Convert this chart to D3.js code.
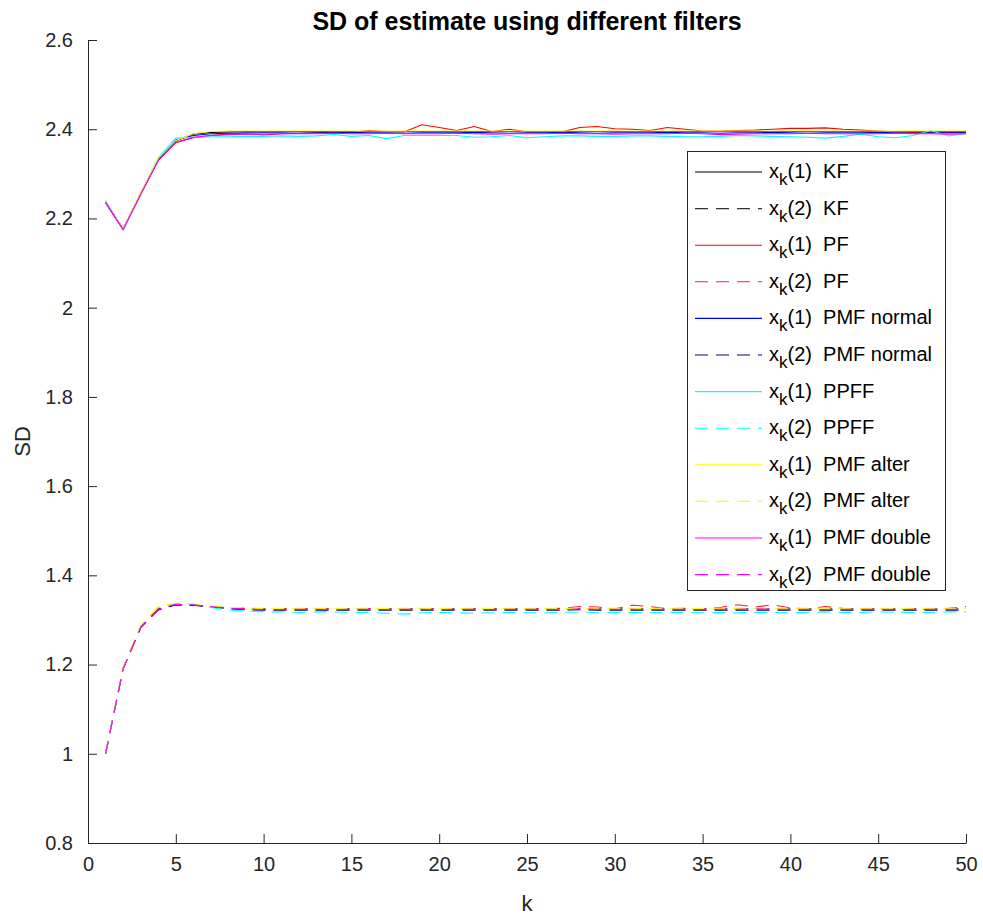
<!DOCTYPE html>
<html>
<head>
<meta charset="utf-8">
<script src="https://cdn.jsdelivr.net/npm/d3@7/dist/d3.min.js"></script>
<style>
  html, body { margin: 0; padding: 0; background: #fff; }
  svg { display: block; font-family: "Liberation Sans", Arial, Helvetica, sans-serif; }
</style>
</head>
<body>
<svg id="chart" width="983" height="915"></svg>
<script>
// Time steps k = 1..50
const k = d3.range(1, 51);

// Standard deviation of the first state component x_k(1)
const kfX1 = [2.237,2.176,2.256,2.333,2.374,2.389,2.393,2.394,2.395,2.395,
  2.395,2.395,2.395,2.395,2.395,2.395,2.395,2.395,2.395,2.395,
  2.395,2.395,2.395,2.395,2.395,2.395,2.395,2.395,2.395,2.395,
  2.395,2.395,2.395,2.395,2.395,2.395,2.395,2.395,2.395,2.395,
  2.395,2.395,2.395,2.395,2.395,2.395,2.395,2.395,2.395,2.395];
const pfX1 = [2.236,2.175,2.254,2.330,2.370,2.381,2.386,2.389,2.390,2.387,
  2.390,2.391,2.392,2.393,2.393,2.397,2.395,2.394,2.410,2.404,
  2.397,2.406,2.395,2.400,2.394,2.394,2.394,2.404,2.406,2.401,
  2.400,2.397,2.404,2.400,2.396,2.396,2.397,2.398,2.400,2.402,
  2.402,2.403,2.400,2.398,2.396,2.394,2.393,2.393,2.392,2.393];
const pmfNormalX1 = [2.235,2.176,2.255,2.332,2.376,2.386,2.390,2.391,2.392,2.392,
  2.392,2.391,2.392,2.392,2.393,2.392,2.392,2.391,2.392,2.392,
  2.392,2.393,2.392,2.391,2.392,2.392,2.393,2.392,2.391,2.392,
  2.392,2.392,2.393,2.392,2.392,2.391,2.392,2.392,2.393,2.392,
  2.391,2.392,2.392,2.392,2.393,2.392,2.391,2.392,2.392,2.392];
const ppffX1 = [2.240,2.174,2.256,2.336,2.380,2.382,2.383,2.383,2.384,2.384,
  2.385,2.384,2.385,2.388,2.384,2.386,2.379,2.386,2.386,2.386,
  2.386,2.382,2.383,2.386,2.381,2.383,2.385,2.385,2.384,2.384,
  2.385,2.385,2.384,2.383,2.383,2.384,2.386,2.385,2.384,2.383,
  2.382,2.380,2.384,2.389,2.383,2.381,2.386,2.397,2.385,2.390];
const pmfAlterX1 = [2.236,2.177,2.257,2.335,2.375,2.390,2.395,2.396,2.396,2.396,
  2.396,2.396,2.396,2.396,2.396,2.396,2.396,2.396,2.396,2.396,
  2.396,2.396,2.396,2.396,2.396,2.396,2.396,2.396,2.396,2.396,
  2.396,2.396,2.396,2.396,2.396,2.396,2.396,2.396,2.396,2.396,
  2.396,2.396,2.396,2.396,2.396,2.396,2.396,2.396,2.396,2.396];
const pmfDoubleX1 = [2.236,2.175,2.254,2.330,2.371,2.382,2.386,2.388,2.389,2.389,
  2.390,2.390,2.390,2.391,2.390,2.390,2.391,2.390,2.390,2.390,
  2.391,2.390,2.389,2.390,2.390,2.390,2.391,2.390,2.390,2.389,
  2.390,2.390,2.390,2.391,2.390,2.388,2.389,2.390,2.390,2.390,
  2.391,2.390,2.390,2.390,2.390,2.391,2.390,2.390,2.389,2.390];

// Standard deviation of the second state component x_k(2)
const kfX2 = [1.000,1.192,1.283,1.325,1.334,1.333,1.330,1.327,1.326,1.325,
  1.325,1.325,1.325,1.325,1.325,1.325,1.325,1.325,1.325,1.325,
  1.325,1.325,1.325,1.325,1.325,1.325,1.325,1.325,1.325,1.325,
  1.325,1.325,1.325,1.325,1.325,1.325,1.325,1.325,1.325,1.325,
  1.325,1.325,1.325,1.325,1.325,1.325,1.325,1.325,1.325,1.325];
const pfX2 = [1.000,1.190,1.282,1.322,1.334,1.334,1.330,1.327,1.325,1.324,
  1.325,1.324,1.325,1.325,1.324,1.325,1.325,1.324,1.325,1.325,
  1.324,1.325,1.325,1.324,1.325,1.325,1.326,1.330,1.329,1.325,
  1.333,1.330,1.325,1.326,1.325,1.328,1.334,1.329,1.334,1.327,
  1.325,1.330,1.326,1.325,1.325,1.325,1.324,1.325,1.326,1.330];
const pmfNormalX2 = [1.000,1.191,1.284,1.323,1.334,1.333,1.329,1.325,1.323,1.322,
  1.322,1.322,1.322,1.322,1.322,1.322,1.322,1.322,1.322,1.322,
  1.322,1.322,1.322,1.322,1.322,1.322,1.322,1.323,1.322,1.322,
  1.322,1.322,1.322,1.322,1.322,1.322,1.322,1.322,1.322,1.322,
  1.322,1.322,1.322,1.322,1.322,1.322,1.322,1.322,1.322,1.322];
const ppffX2 = [1.000,1.193,1.286,1.328,1.337,1.335,1.328,1.322,1.320,1.318,
  1.318,1.317,1.318,1.318,1.317,1.317,1.315,1.313,1.316,1.317,
  1.316,1.315,1.316,1.317,1.316,1.316,1.317,1.318,1.316,1.317,
  1.317,1.316,1.317,1.317,1.316,1.317,1.316,1.317,1.317,1.316,
  1.317,1.318,1.317,1.317,1.318,1.317,1.317,1.317,1.318,1.318];
const pmfAlterX2 = [1.000,1.194,1.288,1.330,1.338,1.336,1.331,1.328,1.327,1.326,
  1.326,1.326,1.326,1.326,1.326,1.326,1.326,1.326,1.326,1.326,
  1.326,1.326,1.326,1.326,1.326,1.326,1.326,1.326,1.326,1.326,
  1.326,1.326,1.326,1.326,1.326,1.326,1.326,1.326,1.326,1.326,
  1.326,1.326,1.326,1.326,1.326,1.326,1.326,1.326,1.326,1.326];
const pmfDoubleX2 = [1.000,1.191,1.284,1.324,1.335,1.334,1.330,1.326,1.324,1.323,
  1.323,1.324,1.324,1.323,1.324,1.324,1.323,1.324,1.324,1.323,
  1.324,1.324,1.323,1.324,1.324,1.324,1.323,1.325,1.324,1.324,
  1.324,1.323,1.324,1.324,1.323,1.324,1.324,1.325,1.324,1.324,
  1.324,1.323,1.324,1.324,1.324,1.323,1.324,1.324,1.324,1.324];

// Legend entries: component, filter name, values, colour, dashed
const seriesList = [
  { comp: "1", name: "KF",         values: kfX1,        color: "#000000", dashed: false },
  { comp: "2", name: "KF",         values: kfX2,        color: "#333333", dashed: true  },
  { comp: "1", name: "PF",         values: pfX1,        color: "#ff0000", dashed: false },
  { comp: "2", name: "PF",         values: pfX2,        color: "#ff2020", dashed: true  },
  { comp: "1", name: "PMF normal", values: pmfNormalX1, color: "#0000ff", dashed: false },
  { comp: "2", name: "PMF normal", values: pmfNormalX2, color: "#00008b", dashed: true  },
  { comp: "1", name: "PPFF",       values: ppffX1,      color: "#00ffff", dashed: false },
  { comp: "2", name: "PPFF",       values: ppffX2,      color: "#00ffff", dashed: true  },
  { comp: "1", name: "PMF alter",  values: pmfAlterX1,  color: "#ffff00", dashed: false },
  { comp: "2", name: "PMF alter",  values: pmfAlterX2,  color: "#ffff00", dashed: true  },
  { comp: "1", name: "PMF double", values: pmfDoubleX1, color: "#ff00ff", dashed: false },
  { comp: "2", name: "PMF double", values: pmfDoubleX2, color: "#ff00ff", dashed: true  }
];

const xTicks = [0, 5, 10, 15, 20, 25, 30, 35, 40, 45, 50];
const yTicks = [0.8, 1.0, 1.2, 1.4, 1.6, 1.8, 2.0, 2.2, 2.4, 2.6];

const titleText = "SD of estimate using different filters";
const xLabel = "k";
const yLabel = "SD";

// ---- layout ----
const svg = d3.select("#chart");
const plot = { left: 88, right: 966, top: 40, bottom: 843 };
const axisColor = "#262626";
const dash = "13,8";

const x = d3.scaleLinear().domain([0, 50]).range([plot.left, plot.right]);
const y = d3.scaleLinear().domain([0.8, 2.6]).range([plot.bottom, plot.top]);

const fmt = d => String(Math.round(d * 10) / 10);

// Axes (ticks point inward)
const xAxis = svg.append("g")
  .attr("transform", `translate(0,${plot.bottom})`)
  .call(d3.axisBottom(x).tickValues(xTicks).tickFormat(fmt).tickSizeInner(-9).tickSizeOuter(0).tickPadding(14));
const yAxis = svg.append("g")
  .attr("transform", `translate(${plot.left},0)`)
  .call(d3.axisLeft(y).tickValues(yTicks).tickFormat(fmt).tickSizeInner(-9).tickSizeOuter(0).tickPadding(15));

[xAxis, yAxis].forEach(g => {
  g.select(".domain").attr("stroke", axisColor).attr("stroke-width", 1);
  g.selectAll(".tick line").attr("stroke", axisColor).attr("stroke-width", 1);
  g.selectAll(".tick text").attr("fill", axisColor)
    .style("font-size", "20px").style("font-family", "'Liberation Sans', Arial, sans-serif");
});

// Data lines
const line = d3.line().x((d, i) => x(k[i])).y(d => y(d));
const linesG = svg.append("g");
seriesList.forEach(s => {
  linesG.append("path")
    .datum(s.values)
    .attr("d", line)
    .attr("fill", "none")
    .attr("stroke", s.color)
    .attr("stroke-width", 1.1)
    .attr("stroke-dasharray", s.dashed ? dash : null);
});

// Title and axis labels
svg.append("text")
  .attr("x", (plot.left + plot.right) / 2).attr("y", 30)
  .attr("text-anchor", "middle")
  .style("font-size", "25px").style("font-weight", "bold")
  .attr("fill", "#000")
  .text(titleText);

svg.append("text")
  .attr("x", (plot.left + plot.right) / 2).attr("y", 911)
  .attr("text-anchor", "middle")
  .style("font-size", "22px").attr("fill", axisColor)
  .text(xLabel);

svg.append("text")
  .attr("transform", `translate(30,${(plot.top + plot.bottom) / 2}) rotate(-90)`)
  .attr("text-anchor", "middle")
  .style("font-size", "22px").attr("fill", axisColor)
  .text(yLabel);

// Legend
const legend = { x: 687, y: 151, w: 258, h: 439, rowTop: 172, rowStep: 36.6 };
const lg = svg.append("g");
lg.append("rect")
  .attr("x", legend.x + 0.5).attr("y", legend.y + 0.5)
  .attr("width", legend.w).attr("height", legend.h)
  .attr("fill", "#fff").attr("stroke", axisColor).attr("stroke-width", 1);

seriesList.forEach((s, i) => {
  const cy = legend.rowTop + i * legend.rowStep;
  lg.append("line")
    .attr("x1", 695).attr("x2", 762)
    .attr("y1", cy).attr("y2", cy)
    .attr("stroke", s.color).attr("stroke-width", 1.1)
    .attr("stroke-dasharray", s.dashed ? dash : null);
  const t = lg.append("text")
    .attr("x", 769).attr("y", cy + 6)
    .style("font-size", "20px").attr("fill", "#000");
  t.append("tspan").text("x");
  t.append("tspan").attr("dy", 7).style("font-size", "17px").text("k");
  t.append("tspan").attr("dy", -7).text(`(${s.comp})  ${s.name}`).attr("xml:space", "preserve");
});
</script>
</body>
</html>
